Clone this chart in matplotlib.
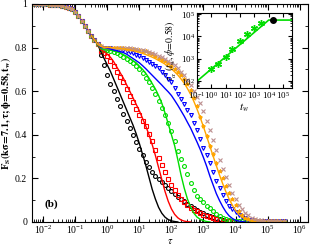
import matplotlib
matplotlib.use('Agg')
import matplotlib.pyplot as plt
import numpy as np

plt.rcParams['font.family'] = ['Liberation Serif', 'DejaVu Serif']
plt.rcParams['mathtext.fontset'] = 'stix'

# log10(tau) sampling grid of the correlators
log_tau = [-2.3, -2.2, -2.1, -2.0, -1.9, -1.8, -1.7, -1.6, -1.5, -1.4,
           -1.3, -1.2, -1.1, -1.0, -0.9, -0.8, -0.7, -0.6, -0.5, -0.4,
           -0.3, -0.2, -0.1, 0.0, 0.1, 0.2, 0.3, 0.4, 0.5, 0.6,
           0.7, 0.8, 0.9, 1.0, 1.1, 1.2, 1.3, 1.4, 1.5, 1.6,
           1.7, 1.8, 1.9, 2.0, 2.1, 2.2, 2.3, 2.4, 2.5, 2.6,
           2.7, 2.8, 2.9, 3.0, 3.1, 3.2, 3.3, 3.4, 3.5, 3.6,
           3.7, 3.8, 3.9, 4.0, 4.1, 4.2, 4.3, 4.4, 4.5, 4.6,
           4.7, 4.8, 4.9, 5.0, 5.1, 5.2, 5.3, 5.4, 5.5]

# short-time part shared by every waiting time (tau = 10^-2.3 ... 10^-0.3)
fs_early = [1.0, 1.0, 1.0, 0.999, 0.998, 0.997, 0.996, 0.995, 0.993, 0.991,
            0.988, 0.983, 0.975, 0.962, 0.943, 0.92, 0.898, 0.876, 0.855, 0.835,
            0.815]

# simulation data, from tau = 10^-0.2 on
fs_black = [0.765, 0.72, 0.675, 0.635, 0.60, 0.565, 0.53, 0.495, 0.465, 0.43,
            0.40, 0.365, 0.335, 0.305, 0.275, 0.25, 0.228, 0.21, 0.196, 0.183,
            0.17, 0.157, 0.143, 0.13, 0.116, 0.105, 0.094, 0.082, 0.071, 0.062,
            0.053, 0.046, 0.04, 0.033, 0.027, 0.021, 0.016, 0.012, 0.009, 0.006,
            0.004, 0.003, 0.002]
fs_red = [0.785, 0.775, 0.76, 0.74, 0.715, 0.69, 0.665, 0.64, 0.61, 0.58,
          0.55, 0.52, 0.49, 0.465, 0.44, 0.405, 0.37, 0.33, 0.295, 0.26,
          0.228, 0.197, 0.17, 0.145, 0.123, 0.105, 0.092, 0.08, 0.066, 0.056,
          0.048, 0.04, 0.033, 0.027, 0.022, 0.017, 0.013, 0.009, 0.006, 0.004,
          0.003, 0.002, 0.001]
fs_green = [0.795, 0.79, 0.787, 0.783, 0.78, 0.775, 0.765, 0.757, 0.748, 0.738,
            0.727, 0.715, 0.70, 0.682, 0.662, 0.64, 0.614, 0.585, 0.555, 0.522,
            0.49, 0.455, 0.415, 0.37, 0.325, 0.29, 0.255, 0.22, 0.18, 0.145,
            0.12, 0.105, 0.09, 0.075, 0.062, 0.05, 0.037, 0.027, 0.02, 0.013,
            0.009, 0.006, 0.004, 0.003, 0.003, 0.002, 0.002, 0.003, 0.002, 0.002,
            0.002, 0.003, 0.002, 0.002, 0.002, 0.002, 0.002, 0.002]
fs_blue = [0.80, 0.80, 0.798, 0.796, 0.794, 0.792, 0.79, 0.788, 0.784, 0.779,
           0.773, 0.766, 0.76, 0.752, 0.744, 0.735, 0.725, 0.716, 0.705, 0.69,
           0.674, 0.658, 0.64, 0.616, 0.588, 0.565, 0.54, 0.515, 0.49, 0.455,
           0.42, 0.38, 0.34, 0.305, 0.27, 0.23, 0.19, 0.155, 0.125, 0.097,
           0.075, 0.058, 0.044, 0.034, 0.024, 0.016, 0.01, 0.007, 0.006, 0.006,
           0.006, 0.006, 0.006, 0.006, 0.006, 0.006, 0.006, 0.006]
fs_orange = [0.805, 0.80, 0.80, 0.80, 0.80, 0.798, 0.797, 0.796, 0.795, 0.794,
             0.793, 0.791, 0.789, 0.786, 0.782, 0.777, 0.77, 0.762, 0.753, 0.745,
             0.737, 0.727, 0.715, 0.702, 0.69, 0.675, 0.655, 0.632, 0.605, 0.57,
             0.53, 0.48, 0.44, 0.395, 0.35, 0.31, 0.27, 0.235, 0.2, 0.165,
             0.135, 0.105, 0.078, 0.052, 0.032, 0.02, 0.013, 0.009, 0.007, 0.006,
             0.006, 0.006, 0.006, 0.006, 0.006, 0.006, 0.006, 0.006]
fs_brown = [0.805, 0.80, 0.80, 0.80, 0.80, 0.80, 0.799, 0.798, 0.797, 0.796,
            0.795, 0.793, 0.791, 0.788, 0.785, 0.781, 0.776, 0.77, 0.763, 0.756,
            0.748, 0.739, 0.729, 0.718, 0.705, 0.69, 0.673, 0.653, 0.63, 0.603,
            0.575, 0.548, 0.51, 0.465, 0.42, 0.375, 0.33, 0.285, 0.245, 0.205,
            0.168, 0.133, 0.105, 0.08, 0.06, 0.042, 0.03, 0.02, 0.013, 0.009,
            0.007, 0.006, 0.006, 0.006, 0.006, 0.006, 0.006, 0.006]

# fits, from tau = 10^-0.2 on
fit_black = [0.78, 0.75, 0.72, 0.69, 0.655, 0.62, 0.585, 0.55, 0.515, 0.48,
             0.445, 0.405, 0.36, 0.31, 0.26, 0.205, 0.15, 0.105, 0.067, 0.04,
             0.022, 0.011, 0.005, 0.002, 0.0]
fit_red = [0.79, 0.78, 0.77, 0.755, 0.735, 0.71, 0.685, 0.66, 0.63, 0.60,
           0.57, 0.54, 0.51, 0.475, 0.44, 0.40, 0.355, 0.305, 0.25, 0.195,
           0.14, 0.095, 0.06, 0.035, 0.019, 0.009, 0.004, 0.001, 0.0]
fit_green = [0.795, 0.79, 0.789, 0.787, 0.785, 0.78, 0.775, 0.768, 0.76, 0.75,
             0.74, 0.73, 0.715, 0.70, 0.682, 0.66, 0.635, 0.61, 0.58, 0.545,
             0.50, 0.45, 0.40, 0.35, 0.285, 0.215, 0.155, 0.105, 0.068, 0.04,
             0.022, 0.012, 0.006, 0.002, 0.0]
fit_blue = [0.80, 0.80, 0.797, 0.793, 0.789, 0.785, 0.781, 0.777, 0.77, 0.76,
            0.75, 0.74, 0.73, 0.717, 0.703, 0.688, 0.673, 0.658, 0.643, 0.628,
            0.612, 0.597, 0.58, 0.558, 0.535, 0.51, 0.485, 0.457, 0.43, 0.398,
            0.366, 0.332, 0.295, 0.255, 0.21, 0.17, 0.13, 0.098, 0.07, 0.046,
            0.028, 0.016, 0.008, 0.004, 0.002, 0.0]
fit_orange = [0.805, 0.80, 0.80, 0.80, 0.799, 0.798, 0.796, 0.794, 0.792, 0.789,
              0.786, 0.782, 0.778, 0.773, 0.768, 0.762, 0.756, 0.749, 0.741, 0.733,
              0.724, 0.714, 0.702, 0.689, 0.674, 0.656, 0.636, 0.612, 0.585, 0.553,
              0.517, 0.478, 0.436, 0.392, 0.347, 0.302, 0.258, 0.215, 0.175, 0.138,
              0.105, 0.077, 0.054, 0.036, 0.022, 0.013, 0.007, 0.003, 0.0]

# inset: alpha relaxation time vs waiting time
tw = [1, 3, 10, 30, 100, 300, 1000, 3000]
tau_alpha = [355, 590, 1175, 2800, 6600, 12300, 23000, 40000]
tw_fit = [0.1, 1e4, 4e5]
tau_fit = [100, 5.4e4, 5.4e4]
tw_eq = [2e4]
tau_eq = [5.2e4]

yticks = [0, 0.2, 0.4, 0.6, 0.8, 1.0]
ytick_labels = ['0', '0.2', '0.4', '0.6', '0.8', '1']

markers = [
    (fs_black, 'black', 'o', 'none'),
    (fs_red, 'red', 's', 'none'),
    (fs_green, '#00dd00', 'o', 'none'),
    (fs_blue, 'blue', 'v', 'none'),
    (fs_orange, 'orange', '*', 'orange'),
    (fs_brown, 'rosybrown', 'x', 'rosybrown'),
]
fits = [
    (fit_black, 'black'),
    (fit_red, 'red'),
    (fit_green, '#00dd00'),
    (fit_blue, 'blue'),
    (fit_orange, 'orange'),
]

fig = plt.figure(figsize=(3.11, 2.48), dpi=100)
ax = fig.add_axes([0.103, 0.105, 0.887, 0.879])

for vals, col, mk, fc in markers:
    f = fs_early + vals
    t = 10 ** np.array(log_tau[:len(f)])
    ax.plot(t, f, ls='none', marker=mk, ms=2.8, mfc=fc, mec=col, mew=0.8)

for vals, col in fits:
    f = fs_early[18:] + vals
    t = 10 ** np.array(log_tau[18:18 + len(f)])
    ax.plot(t, f, color=col, lw=1.0)

ax.set_xscale('log')
ax.set_xlim(4.5e-3, 1.8e6)
ax.set_ylim(0, 1)
ax.set_xticks([1e-2, 1e-1, 1e0, 1e1, 1e2, 1e3, 1e4, 1e5, 1e6])
ax.set_yticks(yticks)
ax.set_yticklabels(ytick_labels)
ax.set_yticks(np.arange(0.1, 1.0, 0.2), minor=True)
ax.tick_params(which='both', direction='in', top=True, right=True, labelsize=7)
ax.tick_params(axis='x', which='major', pad=1.5)
ax.tick_params(which='major', length=4)
ax.tick_params(which='minor', length=2)
ax.set_xlabel(r'$\tau$', fontsize=7.5)
ax.xaxis.set_label_coords(0.5, -0.07)
ax.set_ylabel(r'$\mathbf{F_S(k\sigma\!=\!7.1,\tau;\phi\!=\!0.58,t_w)}$', fontsize=7.5, labelpad=1)
ax.text(0.045, 0.08, '(b)', transform=ax.transAxes, fontsize=8, fontweight='bold',
        ha='left', va='center')

ins = fig.add_axes([0.633, 0.645, 0.305, 0.302])
ins.plot(tw_fit, tau_fit, color='#00dd00', lw=1.2)
ins.plot(tw, tau_alpha, ls='none', marker=(6, 2, 0), ms=5, color='#00dd00', mew=1.0)
ins.plot(tw_eq, tau_eq, ls='none', marker='o', ms=4, color='black')
ins.set_xscale('log')
ins.set_yscale('log')
ins.set_xlim(0.1, 4e5)
ins.set_ylim(50, 1.1e5)
ins.set_xticks([1e-1, 1e0, 1e1, 1e2, 1e3, 1e4, 1e5])
ins.set_yticks([1e2, 1e3, 1e4, 1e5])
ins.tick_params(which='both', direction='in', top=True, right=True, labelsize=6.5, pad=1.5)
ins.tick_params(which='major', length=3)
ins.tick_params(which='minor', length=1.5)
ins.set_xlabel(r'$\boldsymbol{t_w}$', fontsize=8, labelpad=0)
ins.set_ylabel(r'$\tau_\alpha^*(t_w,\phi\!=\!0.58)$', fontsize=7, labelpad=1)

fig.savefig('out.png', dpi=100)
